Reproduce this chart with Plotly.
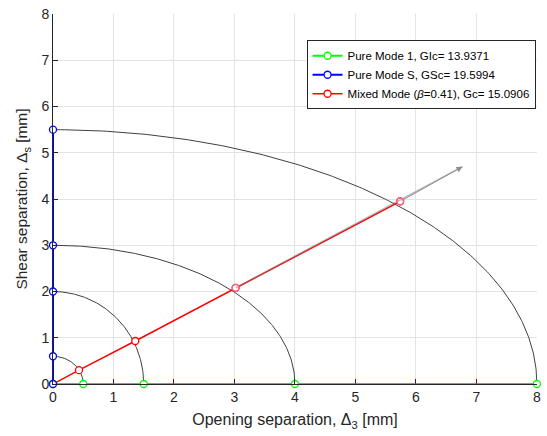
import numpy as np
import plotly.graph_objects as go

# Data
green_x = [0, 0.5, 1.5, 4, 8]
green_y = [0, 0, 0, 0, 0]
blue_x = [0, 0, 0, 0, 0]
blue_y = [0, 0.6, 2, 3, 5.5]
red_x = [0, 0.43, 1.36, 3.02, 5.74]
red_y = [0, 0.30, 0.93, 2.08, 3.95]
ellipse_a = [0.5, 1.5, 4, 8]
ellipse_b = [0.6, 2, 3, 5.5]
arrow_start = (3.02, 2.08)
arrow_tip = (6.77, 4.70)
tick_vals = [0, 1, 2, 3, 4, 5, 6, 7, 8]

labels = ["Pure Mode 1, GIc= 13.9371",
          "Pure Mode S, GSc= 19.5994",
          "Mixed Mode (<i>β</i>=0.41), Gc= 15.0906"]

fig = go.Figure()

t = np.linspace(0, np.pi / 2, 200)
for a, b in zip(ellipse_a, ellipse_b):
    fig.add_trace(go.Scatter(x=a * np.cos(t), y=b * np.sin(t), mode="lines",
                             line=dict(color="#404040", width=1),
                             showlegend=False, hoverinfo="skip"))

marker_common = dict(symbol="circle", size=7, color="white")

fig.add_trace(go.Scatter(x=red_x, y=red_y, mode="lines+markers", name=labels[2],
                         line=dict(color="#ff0000", width=1.5),
                         marker=dict(**marker_common, line=dict(color="#ff0000", width=1.3)),
                         legendrank=3))

fig.add_trace(go.Scatter(x=[arrow_start[0], arrow_tip[0]], y=[arrow_start[1], arrow_tip[1]],
                         mode="lines", line=dict(color="rgba(128,128,128,0.55)", width=1.5),
                         showlegend=False, hoverinfo="skip"))
fig.add_annotation(x=arrow_tip[0], y=arrow_tip[1], ax=red_x[-1], ay=red_y[-1],
                   xref="x", yref="y", axref="x", ayref="y", text="",
                   showarrow=True, arrowhead=2, arrowsize=1.2, arrowwidth=1,
                   arrowcolor="#8c8c8c")

fig.add_trace(go.Scatter(x=red_x[-2:], y=red_y[-2:], mode="markers",
                         marker=dict(symbol="circle-open", size=7, line=dict(color="#ff0000", width=1.3)),
                         showlegend=False, hoverinfo="skip"))

fig.add_trace(go.Scatter(x=green_x, y=green_y, mode="lines+markers", name=labels[0],
                         line=dict(color="#00ff00", width=2),
                         marker=dict(**marker_common, line=dict(color="#00ff00", width=1.3)),
                         legendrank=1, cliponaxis=False))
fig.add_trace(go.Scatter(x=blue_x, y=blue_y, mode="lines+markers", name=labels[1],
                         line=dict(color="#0000ff", width=2),
                         marker=dict(**marker_common, line=dict(color="#0000ff", width=1.3)),
                         legendrank=2, cliponaxis=False))

axis_common = dict(range=[0, 8.002], tickvals=tick_vals, showgrid=True, gridcolor="#e3e3e3",
                   gridwidth=1, zeroline=False, showline=True, linecolor="#262626",
                   linewidth=1, ticks="inside", ticklen=5, tickcolor="#262626",
                   ticklabeloverflow="allow",
                   tickfont=dict(family="Liberation Sans, Arial", size=14, color="#262626"),
                   mirror=False)

fig.update_xaxes(**axis_common,
                 title=dict(text="Opening separation, Δ<sub>3</sub> [mm]", standoff=10,
                            font=dict(family="Liberation Sans, Arial", size=16, color="#262626")))
fig.update_yaxes(**axis_common,
                 title=dict(text="Shear separation, Δ<sub>s</sub> [mm]", standoff=9,
                            font=dict(family="Liberation Sans, Arial", size=15.5, color="#262626")))

fig.update_layout(
    width=547, height=436,
    margin=dict(l=53, r=10, t=6, b=52),
    plot_bgcolor="white", paper_bgcolor="white",
    showlegend=True,
    legend=dict(x=0.997, y=0.929, xanchor="right", yanchor="top",
                bgcolor="white", bordercolor="#262626", borderwidth=1,
                font=dict(family="Liberation Sans, Arial", size=11.5, color="#000000"),
                itemwidth=30, tracegroupgap=0),
)

fig.write_html("out.html")
